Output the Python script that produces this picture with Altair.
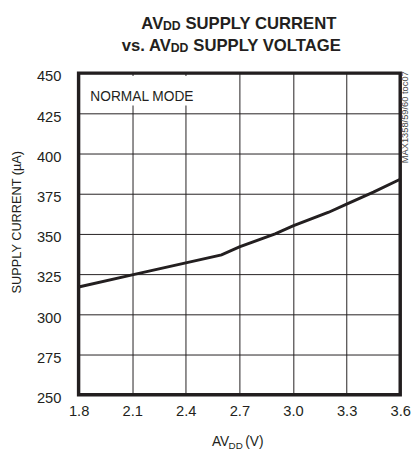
import altair as alt
import pandas as pd

# ---- data ----
voltage = [1.8, 2.1, 2.4, 2.6, 2.7, 2.9, 3.0, 3.2, 3.3, 3.45, 3.6]
current = [317, 324.5, 332, 337, 342, 350, 355, 363.5, 368.5, 376, 384]
x_ticks = [1.8, 2.1, 2.4, 2.7, 3.0, 3.3, 3.6]
y_ticks = [250, 275, 300, 325, 350, 375, 400, 425, 450]

title_line1 = ["AV", "DD", "SUPPLY CURRENT"]
title_line2 = ["vs. AV", "DD", "SUPPLY VOLTAGE"]
x_title = ["AV", "DD", "(V)"]
y_title = "SUPPLY CURRENT (µA)"
mode_label = "NORMAL MODE"
side_label = "MAX1358/59/60 toc07"

FONT = "Liberation Sans"
INK = "#231f20"
W, H = 328, 328

df = pd.DataFrame({"v": voltage, "c": current})

line = alt.Chart(df).mark_line(color=INK, strokeWidth=3, clip=True).encode(
    x=alt.X("v:Q",
            scale=alt.Scale(domain=[1.8, 3.6], nice=False, zero=False),
            axis=alt.Axis(values=x_ticks, format=".1f", title=None, grid=True,
                          ticks=False, domain=False, labelFont=FONT,
                          labelFontSize=15, labelPadding=9, labelColor=INK,
                          gridColor=INK, gridOpacity=1, gridWidth=1,
                          labelFlush=False)),
    y=alt.Y("c:Q",
            scale=alt.Scale(domain=[250, 450], nice=False, zero=False),
            axis=alt.Axis(values=y_ticks, format="d", title=None, grid=True,
                          ticks=False, domain=False, labelFont=FONT,
                          labelFontSize=15, labelPadding=18, labelOffset=3,
                          labelColor=INK, gridColor=INK, gridOpacity=1,
                          gridWidth=1, labelFlush=False)),
)

mask = alt.Chart(pd.DataFrame({"a": [0]})).mark_rect(color="white").encode(
    x=alt.value(3), x2=alt.value(122), y=alt.value(3), y2=alt.value(33)
)


def txt(s, x, y, size, bold=False, align="left", baseline="alphabetic",
        angle=0, color=INK):
    kw = dict(font=FONT, fontSize=size, align=align, baseline=baseline,
              color=color, fontWeight="bold" if bold else "normal")
    if angle:
        kw["angle"] = angle
    return alt.Chart(pd.DataFrame({"t": [s]})).mark_text(**kw).encode(
        text="t:N", x=alt.value(x), y=alt.value(y))


layers = [
    line, mask,
    # title
    txt(title_line1[0], 64, -45, 17, bold=True),
    txt(title_line1[1], 86, -43.5, 12.5, bold=True),
    txt(title_line1[2], 109, -45, 17, bold=True),
    txt(title_line2[0], 44, -23, 17, bold=True),
    txt(title_line2[1], 94, -21.5, 12.5, bold=True),
    txt(title_line2[2], 117, -23, 17, bold=True),
    # x axis title
    txt(x_title[0], 136, 380, 14),
    txt(x_title[1], 153, 383, 10),
    txt(x_title[2], 170, 380, 14),
    # y axis title
    txt(y_title, -63, 152, 13, align="center", baseline="middle", angle=270),
    # annotations
    txt(mode_label, 12, 28, 14),
    txt(side_label, 333, 45, 9.5, align="center", baseline="middle",
        angle=270, color="#444444"),
]

chart = alt.layer(*layers).properties(
    width=W, height=H,
    autosize=alt.AutoSizeParams(type="none"),
    padding={"left": 72, "top": 62, "right": 11, "bottom": 55},
).configure_view(stroke=INK, strokeWidth=3.5)

chart.save("out.html", embed_options={"renderer": "svg", "actions": False})
